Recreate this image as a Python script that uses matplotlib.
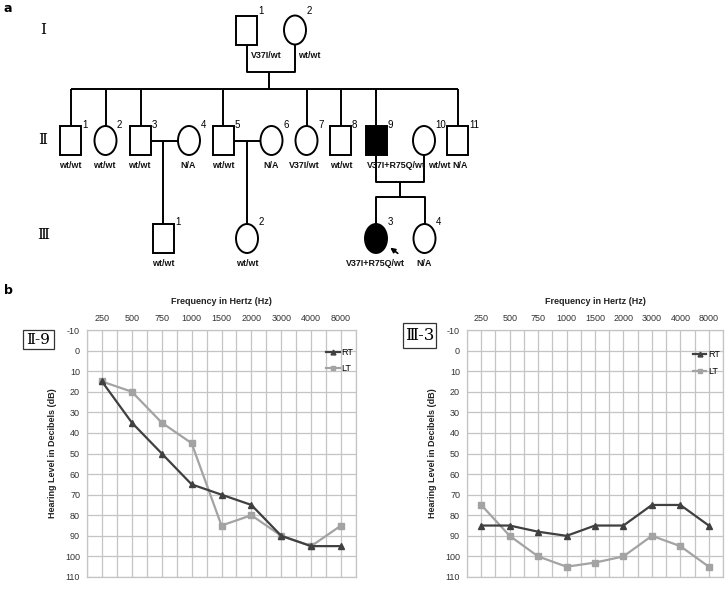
import matplotlib
matplotlib.use("Agg")
import matplotlib.pyplot as plt
from matplotlib.patches import Rectangle, Ellipse

plt.rcParams["axes.unicode_minus"] = False

# ---------------- data ----------------
freqs = ["250", "500", "750", "1000", "1500", "2000", "3000", "4000", "8000"]
ii9_rt = [15, 35, 50, 65, 70, 75, 90, 95, 95]
ii9_lt = [15, 20, 35, 45, 85, 80, 90, 95, 85]
iii3_rt = [85, 85, 88, 90, 85, 85, 75, 75, 85]
iii3_lt = [75, 90, 100, 105, 103, 100, 90, 95, 105]
db_ticks = list(range(-10, 111, 10))

# pedigree individuals: (num, sex, affected, genotype)
gen1 = [("1", "M", False, "V37I/wt"), ("2", "F", False, "wt/wt")]
gen2 = [("1", "M", False, "wt/wt"), ("2", "F", False, "wt/wt"), ("3", "M", False, "wt/wt"),
        ("4", "F", False, "N/A"), ("5", "M", False, "wt/wt"), ("6", "F", False, "N/A"),
        ("7", "F", False, "V37I/wt"), ("8", "M", False, "wt/wt"), ("9", "M", True, "V37I+R75Q/wt"),
        ("10", "F", False, "wt/wt"), ("11", "M", False, "N/A")]
gen3 = [("1", "M", False, "wt/wt"), ("2", "F", False, "wt/wt"),
        ("3", "F", True, "V37I+R75Q/wt"), ("4", "F", False, "N/A")]

# layout (pixel space)
W, H = 728, 589
g1_x = [246.5, 295]
g2_x = [70.5, 105.5, 140.5, 189, 223, 271.5, 306.5, 340.5, 376, 424, 457.5]
g3_x = [163.5, 247, 376, 424.5]
g1_y, g2_y, g3_y = 30, 140.5, 238.5
sw, sh = 21, 29

fig = plt.figure(figsize=(W / 100, H / 100), dpi=100)
ax0 = fig.add_axes([0, 0, 1, 1])
ax0.set_xlim(0, W)
ax0.set_ylim(H, 0)
ax0.axis("off")

lw = 1.4
def sym(x, y, sex, aff):
    fc = "black" if aff else "white"
    if sex == "M":
        ax0.add_patch(Rectangle((x - sw / 2, y - sh / 2), sw, sh, fc=fc, ec="black", lw=lw, zorder=3))
    else:
        ax0.add_patch(Ellipse((x, y), sw + 1, sh, fc=fc, ec="black", lw=lw, zorder=3))

def line(xs, ys):
    ax0.plot(xs, ys, color="black", lw=lw, solid_capstyle="butt", zorder=2)

narrow = ["Liberation Sans Narrow", "Liberation Sans"]
gfont = dict(fontsize=6.4, fontweight="bold", family=narrow, ha="center", va="center", color="#111111")
nfont = dict(fontsize=7, family=narrow, ha="left", va="center")

for (num, sex, aff, gt), x in zip(gen1, g1_x):
    sym(x, g1_y, sex, aff)
    ax0.text(x + sw / 2 + 1, g1_y - sh / 2 - 4, num, **nfont)
ax0.text(266, 55, gen1[0][3], **gfont)
ax0.text(309, 55, gen1[1][3], **gfont)

for (num, sex, aff, gt), x in zip(gen2, g2_x):
    sym(x, g2_y, sex, aff)
    ax0.text(x + sw / 2 + 1, g2_y - sh / 2 - 1, num, **nfont)
gt2_x = [70, 104, 139, 188, 223, 271, 304, 341, 396, 439, 460]
for (num, sex, aff, gt), x in zip(gen2, gt2_x):
    ax0.text(x, 165, gt, **gfont)

for (num, sex, aff, gt), x in zip(gen3, g3_x):
    sym(x, g3_y, sex, aff)
    ax0.text(x + sw / 2 + 1, g3_y - sh / 2 - 2, num, **nfont)
for (num, sex, aff, gt), x in zip(gen3, [163, 247, 375, 424]):
    ax0.text(x, 263, gt, **gfont)

# connecting lines
line([g1_x[0], g1_x[0], g1_x[1], g1_x[1]], [g1_y + sh / 2, 72, 72, g1_y + sh / 2])
line([269, 269], [72, 89])
line([g2_x[0], g2_x[-1]], [89, 89])
for i in [0, 1, 2, 4, 6, 7, 8, 10]:
    line([g2_x[i], g2_x[i]], [89, g2_y - sh / 2])
line([g2_x[2] + sw / 2, g2_x[3] - sw / 2 - 1], [g2_y, g2_y])
line([163, 163], [g2_y, g3_y - sh / 2])
line([g2_x[4] + sw / 2, g2_x[5] - sw / 2 - 1], [g2_y, g2_y])
line([247, 247], [g2_y, g3_y - sh / 2])
line([g2_x[8], g2_x[8], g2_x[9], g2_x[9]], [g2_y + sh / 2, 182, 182, g2_y + sh / 2])
line([400, 400], [182, 197])
line([g3_x[2], g3_x[2], g3_x[3], g3_x[3]], [g3_y - sh / 2, 197, 197, g3_y - sh / 2])
ax0.annotate("", xy=(388, 246), xytext=(400, 255),
             arrowprops=dict(arrowstyle="-|>", color="black", lw=1.2, mutation_scale=7))

rfont = dict(family=["DejaVu Serif", "Noto Sans CJK JP"], fontsize=11, ha="center", va="center")
ax0.text(43, 30, "Ⅰ", **rfont)
ax0.text(43, 140, "Ⅱ", **rfont)
ax0.text(43, 235, "Ⅲ", **rfont)

ax0.text(4, 8, "a", fontsize=9, fontweight="bold", ha="left", va="center")
ax0.text(4, 290, "b", fontsize=9, fontweight="bold", ha="left", va="center")

# box labels
ax0.add_patch(Rectangle((23, 330), 31, 19, fc="white", ec="#333333", lw=0.9))
ax0.text(38.5, 340, "Ⅱ-9", **rfont)
ax0.add_patch(Rectangle((403, 323), 33, 25, fc="white", ec="#333333", lw=0.9))
ax0.text(419.5, 336, "Ⅲ-3", **dict(rfont, fontsize=12))

# ---------------- audiograms ----------------
def audiogram(rect, rt, lt, leg_anchor):
    ax = fig.add_axes(rect)
    xs = [i + 0.5 for i in range(len(freqs))]
    ax.set_xlim(0, len(freqs))
    ax.set_ylim(110, -10)
    ax.set_xticks([i * 0.5 for i in range(2 * len(freqs) + 1)], minor=True)
    ax.set_xticks(xs)
    ax.set_xticklabels(freqs)
    ax.set_yticks(db_ticks)
    ax.xaxis.tick_top()
    ax.xaxis.set_label_position("top")
    ax.grid(True, which="both", axis="x", color="#c4c4c4", lw=0.9)
    ax.grid(True, which="major", axis="y", color="#c4c4c4", lw=0.9)
    ax.tick_params(which="both", length=0, labelsize=6.5, labelcolor="#333333", pad=5)
    for lab in ax.get_xticklabels() + ax.get_yticklabels():
        lab.set_family("Liberation Sans")
    for s in ax.spines.values():
        s.set_color("#c4c4c4")
        s.set_linewidth(0.9)
    ax.set_axisbelow(True)
    ax.plot(xs, rt, color="#404040", lw=1.6, marker="^", ms=5, label="RT", zorder=4)
    ax.plot(xs, lt, color="#a3a3a3", lw=1.6, marker="s", ms=5, label="LT", zorder=3)
    ax.set_xlabel("Frequency in Hertz (Hz)", fontsize=6.5, fontweight="bold", family=narrow,
                  color="#222222", labelpad=7)
    ax.set_ylabel("Hearing Level in Decibels (dB)", fontsize=6.5, fontweight="bold", family=narrow,
                  color="#222222", labelpad=6)
    leg = ax.legend(loc="upper right", bbox_to_anchor=leg_anchor, frameon=False, fontsize=6.5,
                    handlelength=1.5, handletextpad=0.2, labelspacing=0.8, markerscale=0.7)
    for t in leg.get_texts():
        t.set_family("Liberation Sans")
    return ax

audiogram([87 / W, 12 / H, (356 - 87) / W, (577 - 330) / H], ii9_rt, ii9_lt, (1.02, 0.96))
audiogram([467 / W, 12 / H, (723 - 467) / W, (577 - 330) / H], iii3_rt, iii3_lt, (1.02, 0.95))

fig.savefig("out.png", dpi=100)
